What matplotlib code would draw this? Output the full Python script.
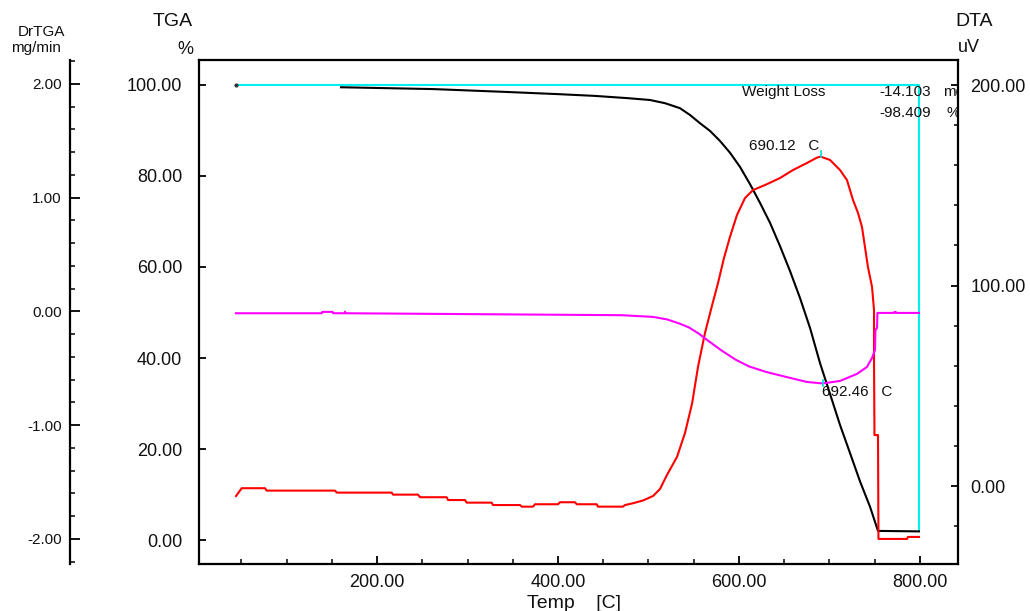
import matplotlib
matplotlib.use("Agg")
import matplotlib.pyplot as plt
from matplotlib.ticker import MultipleLocator, FixedLocator, FormatStrFormatter

plt.rcParams['font.family'] = ['Liberation Sans', 'DejaVu Sans']

# ---- measured thermal analysis data ----
# TGA: residual mass (%) vs temperature (C)
tga_temp = [160.2, 261.9, 339.2, 398.9, 440.9, 477.3, 501.7, 518.2, 534.8, 545.9,
            556.9, 568.0, 579.0, 590.1, 601.1, 612.2, 623.2, 634.3, 645.3, 656.4,
            667.4, 678.5, 689.5, 700.6, 711.6, 722.7, 733.7, 744.8, 753.6, 798.9]
tga_pct = [99.5, 99.1, 98.5, 98.0, 97.6, 97.1, 96.7, 96.0, 94.9, 93.4,
           91.6, 89.9, 87.7, 85.1, 82.0, 78.2, 74.1, 69.7, 64.6, 59.1,
           53.2, 46.6, 38.9, 32.1, 25.3, 19.1, 12.9, 7.3, 2.0, 1.9]

# DrTGA: mass loss rate (mg/min)
drtga_temp = [44.2, 139.0, 139.5, 151.0, 151.5, 164.0, 164.6, 165.2, 469.6, 505.0,
              520.4, 533.7, 544.5, 555.6, 566.6, 581.0, 596.7, 611.3, 630.1, 652.2,
              675.1, 692.46, 711.6, 730.4, 741.4, 747.0, 750.3, 750.8, 752.5, 753.0,
              771.5, 772.0, 773.0, 773.5, 798.9]
drtga_val = [-0.016, -0.016, -0.004, -0.004, -0.016, -0.016, -0.002, -0.016, -0.033, -0.048,
             -0.070, -0.105, -0.140, -0.195, -0.262, -0.345, -0.426, -0.484, -0.532, -0.576,
             -0.620, -0.633, -0.611, -0.549, -0.488, -0.409, -0.338, -0.163, -0.145, -0.013,
             -0.013, -0.004, -0.004, -0.013, -0.013]

# DTA: differential signal (uV)
dta_temp = [44.2, 50.5, 76.2, 78.1, 153.6, 155.5, 216.2, 217.7, 245.3, 247.5,
            277.0, 278.5, 297.2, 299.1, 326.7, 328.2, 358.0, 359.9, 372.4, 374.6,
            400.0, 402.2, 418.8, 420.7, 442.8, 444.2, 471.8, 474.0, 482.9, 494.0,
            505.0, 512.7, 520.4, 531.5, 540.3, 548.1, 554.7, 562.4, 570.2, 576.8,
            583.4, 590.0, 597.8, 606.6, 615.5, 628.7, 645.3, 659.7, 675.1, 686.2,
            690.12, 700.6, 711.6, 719.3, 726.0, 731.5, 735.9, 739.2, 742.5, 747.0,
            749.2, 749.2, 749.7, 753.6, 754.1, 785.6, 786.7, 798.9]
dta_uv = [-5.0, -1.1, -1.1, -2.3, -2.3, -3.3, -3.3, -4.3, -4.3, -5.6,
          -5.6, -7.0, -7.0, -8.3, -8.3, -9.5, -9.5, -10.3, -10.3, -9.1,
          -9.1, -8.1, -8.1, -9.1, -9.1, -10.3, -10.3, -9.5, -8.6, -7.2,
          -5.0, -1.5, 5.5, 14.5, 26.4, 41.0, 59.4, 76.3, 90.0, 101.2,
          113.7, 124.2, 135.2, 143.6, 147.6, 150.1, 153.6, 157.6, 161.1, 163.8,
          164.3, 162.6, 157.6, 152.6, 142.6, 136.2, 129.2, 119.2, 109.2, 99.3,
          87.8, 62.8, 25.4, 25.4, -26.4, -26.4, -25.4, -25.4]

# Weight-loss marker line (start level, end temperature, final level)
loss_temp = [44.2, 798.9, 798.9]
loss_level = [100.0, 100.0, 1.9]
weight_loss_mg = -14.103
weight_loss_pct = -98.409

dta_peak_temp = 690.12
drtga_min_temp = 692.46

x_ticks = [200, 400, 600, 800]
tga_ticks = [0, 20, 40, 60, 80, 100]
drtga_ticks = [-2, -1, 0, 1, 2]
dta_ticks = [0, 100, 200]

# ---- figure ----
W, H = 1030, 611
fig = plt.figure(figsize=(W / 100, H / 100), dpi=100)
fig.patch.set_facecolor('white')

TXT = '#111111'
ax = fig.add_axes([199 / W, 1 - 564 / H, 759 / W, 504 / H])
ax2 = ax.twinx()   # DTA (right)
ax3 = ax.twinx()   # DrTGA (far left)

ax.set_xlim(3.3, 842)
ax.set_ylim(-5.27, 105.49)
ax2.set_ylim(-38.9, 212.47)
ax3.set_ylim(-2.22, 2.21)

spine_lw = 1.6
for a in (ax, ax2, ax3):
    for s in a.spines.values():
        s.set_visible(False)
        s.set_linewidth(spine_lw)
ax.spines['left'].set_visible(True)
ax.spines['bottom'].set_visible(True)
ax.spines['top'].set_visible(True)
ax2.spines['right'].set_visible(True)
ax3.spines['left'].set_visible(True)
ax3.spines['left'].set_position(('axes', -0.170))
ax3.yaxis.set_label_position('left')
ax3.yaxis.set_ticks_position('left')

# x axis
ax.xaxis.set_major_locator(FixedLocator(x_ticks))
ax.xaxis.set_minor_locator(MultipleLocator(50))
ax.xaxis.set_major_formatter(FormatStrFormatter('%.2f'))
ax.tick_params(axis='x', which='major', direction='in', length=6, width=1.3,
               pad=7, labelsize=13, labelcolor=TXT, top=False)
ax.tick_params(axis='x', which='minor', direction='in', length=3.5, width=1.1, top=False)

# TGA axis
ax.yaxis.set_major_locator(FixedLocator(tga_ticks))
ax.yaxis.set_major_formatter(FormatStrFormatter('%.2f'))
ax.tick_params(axis='y', which='major', direction='in', length=5, width=1.3,
               pad=12, labelsize=13, labelcolor=TXT, right=False)

# DTA axis
ax2.yaxis.set_major_locator(FixedLocator(dta_ticks))
ax2.yaxis.set_minor_locator(MultipleLocator(20))
ax2.yaxis.set_major_formatter(FormatStrFormatter('%.2f'))
ax2.tick_params(axis='y', which='major', direction='in', length=5, width=1.3,
                pad=9, labelsize=13, labelcolor=TXT)
ax2.tick_params(axis='y', which='minor', direction='in', length=3, width=1.1)

# DrTGA axis
ax3.yaxis.set_major_locator(FixedLocator(drtga_ticks))
ax3.yaxis.set_minor_locator(MultipleLocator(0.2))
ax3.yaxis.set_major_formatter(FormatStrFormatter('%.2f'))
ax3.tick_params(axis='y', which='major', direction='in', length=7, width=1.3,
                pad=6, labelsize=11, labelcolor=TXT, right=False)
ax3.tick_params(axis='y', which='minor', direction='in', length=3.5, width=1.1, right=False)

# curves
lw = 1.5
ax.plot(loss_temp, loss_level, color='#00f0f0', lw=lw, zorder=2)
ax.plot(loss_temp[0], loss_level[0], marker='o', ms=2, color='#333333', zorder=3)
ax.plot(tga_temp, tga_pct, color='black', lw=lw, zorder=3)
ax2.plot(dta_temp, dta_uv, color='#ff0000', lw=lw)
ax3.plot(drtga_temp, drtga_val, color='#ff00ff', lw=lw)

# peak markers and labels
small = 11
dta_peak_val = dta_uv[dta_temp.index(dta_peak_temp)]
ax2.plot([dta_peak_temp, dta_peak_temp], [dta_peak_val, dta_peak_val + 3],
         color='#00e0e0', lw=1.2)
ax2.annotate(f'{dta_peak_temp:.2f}   C', (dta_peak_temp, dta_peak_val),
             xytext=(-51.5, 7.5), textcoords='offset points',
             ha='left', va='center', fontsize=small, color=TXT)

drtga_min_val = drtga_val[drtga_temp.index(drtga_min_temp)]
ax3.plot([drtga_min_temp, drtga_min_temp], [drtga_min_val - 0.02, drtga_min_val + 0.03],
         color='#00e0e0', lw=1.2)
ax3.annotate(f'{drtga_min_temp:.2f}   C', (drtga_min_temp, drtga_min_val),
             xytext=(-0.5, -6.2), textcoords='offset points',
             ha='left', va='center', fontsize=small, color=TXT)

# weight loss readout
ax.text(0.7154, 0.9365, 'Weight Loss', transform=ax.transAxes, ha='left', va='center',
        fontsize=small, color=TXT)
ax.text(0.8959, 0.9365, f'{weight_loss_mg:.3f}', transform=ax.transAxes, ha='left',
        va='center', fontsize=small, color=TXT)
ax.text(0.9802, 0.9365, 'mg', transform=ax.transAxes, ha='left', va='center',
        fontsize=small, color=TXT, clip_on=True)
ax.text(0.8959, 0.8948, f'{weight_loss_pct:.3f}', transform=ax.transAxes, ha='left',
        va='center', fontsize=small, color=TXT)
ax.text(0.9842, 0.8948, '%', transform=ax.transAxes, ha='left', va='center',
        fontsize=small, color=TXT, clip_on=True)


def ftext(x, y, s, **kw):
    fig.text(x / W, 1 - y / H, s, color=TXT, **kw)


# axis titles
ftext(41, 32, 'DrTGA', ha='center', va='center', fontsize=11)
ftext(36, 48, 'mg/min', ha='center', va='center', fontsize=11)
ftext(193, 21, 'TGA', ha='right', va='center', fontsize=14)
ftext(193, 50, '%', ha='right', va='center', fontsize=13)
ftext(955, 21, 'DTA', ha='left', va='center', fontsize=14)
ftext(958, 48, 'uV', ha='left', va='center', fontsize=13)
ftext(527, 604, 'Temp    [C]', ha='left', va='center', fontsize=14)

fig.savefig('out.png', dpi=100, facecolor='white')
